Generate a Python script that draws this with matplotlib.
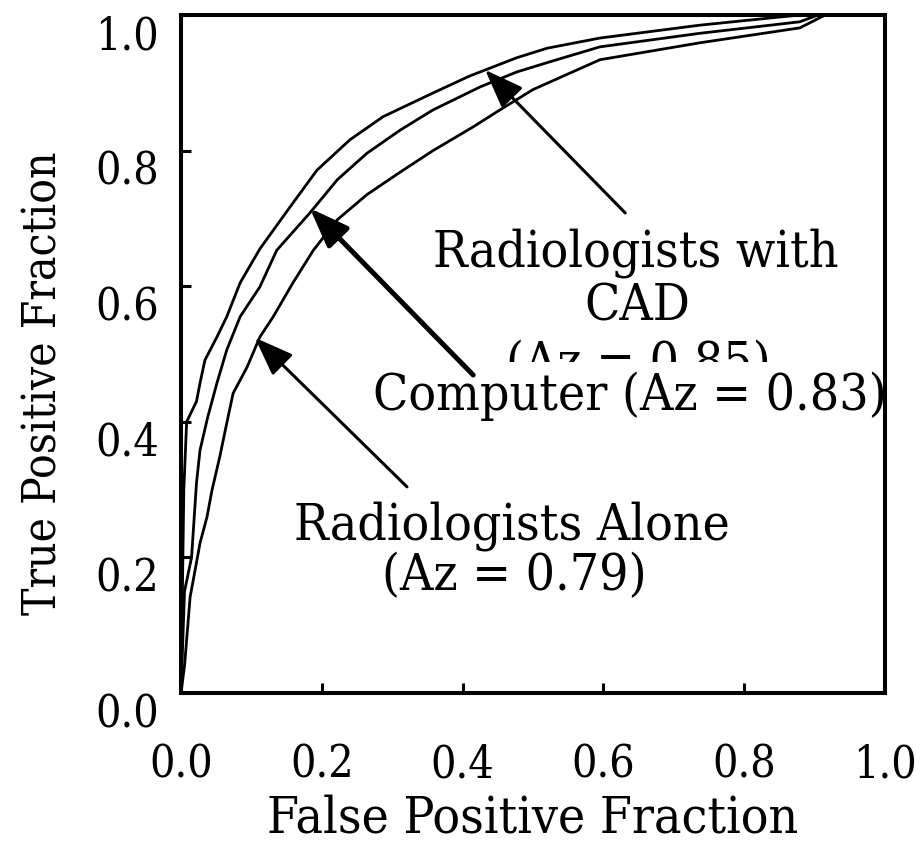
import os
import matplotlib
matplotlib.use("Agg")
import matplotlib.pyplot as plt
from matplotlib import font_manager as fm

# ROC curves (FPF, TPF)
cad_fpf = [0.0, 0.004, 0.008, 0.022, 0.027, 0.034, 0.051, 0.065, 0.084, 0.112, 0.155,
           0.193, 0.240, 0.287, 0.358, 0.410, 0.477, 0.520, 0.595, 0.737, 0.850, 0.880, 1.0]
cad_tpf = [0.0, 0.300, 0.400, 0.430, 0.457, 0.491, 0.525, 0.555, 0.605, 0.655, 0.717,
           0.771, 0.816, 0.850, 0.885, 0.910, 0.937, 0.951, 0.966, 0.985, 0.997, 1.0, 1.0]

comp_fpf = [0.0, 0.005, 0.015, 0.022, 0.027, 0.038, 0.051, 0.065, 0.084, 0.112, 0.136,
            0.183, 0.222, 0.264, 0.311, 0.358, 0.425, 0.477, 0.524, 0.595, 0.737, 0.879, 0.905, 1.0]
comp_tpf = [0.0, 0.150, 0.200, 0.310, 0.358, 0.407, 0.457, 0.506, 0.555, 0.599, 0.653,
            0.708, 0.757, 0.796, 0.830, 0.860, 0.894, 0.916, 0.931, 0.953, 0.973, 0.990, 1.0, 1.0]

alone_fpf = [0.0, 0.005, 0.013, 0.020, 0.027, 0.037, 0.044, 0.055, 0.065, 0.074, 0.094,
             0.112, 0.131, 0.159, 0.188, 0.222, 0.264, 0.311, 0.358, 0.415, 0.453, 0.500,
             0.595, 0.737, 0.879, 0.915, 1.0]
alone_tpf = [0.0, 0.040, 0.142, 0.181, 0.221, 0.260, 0.299, 0.348, 0.398, 0.442, 0.481,
             0.525, 0.555, 0.605, 0.653, 0.698, 0.735, 0.768, 0.800, 0.835, 0.860, 0.890,
             0.934, 0.959, 0.981, 1.0, 1.0]

ticks = [0.0, 0.2, 0.4, 0.6, 0.8, 1.0]
tick_labels = ["0.0", "0.2", "0.4", "0.6", "0.8", "1.0"]


def pick_font_file():
    """ Prefer a condensed serif, the picture uses a tall narrow bitmap font """
    entries = fm.fontManager.ttflist
    for f in entries:
        if os.path.basename(f.fname) == "DejaVuSerifCondensed.ttf":
            return f.fname
    for f in entries:
        if f.name == "Liberation Sans Narrow" and f.weight in (400, "normal") and f.style == "normal":
            return f.fname
    return fm.findfont(fm.FontProperties(family="Liberation Serif"))


font_file = pick_font_file()


def font(size):
    return fm.FontProperties(fname=font_file, size=size)


fig = plt.figure(figsize=(9.16, 8.57), dpi=100)
ax = fig.add_axes([0.1976, 0.1914, 0.7686, 0.7911])

for fpf, tpf in [(cad_fpf, cad_tpf), (comp_fpf, comp_tpf), (alone_fpf, alone_tpf)]:
    ax.plot(fpf, tpf, color="black", lw=2.0, solid_joinstyle="miter")

ax.set_xlim(0, 1)
ax.set_ylim(0, 1)

for s in ax.spines.values():
    s.set_linewidth(2.9)
    s.set_zorder(7)

ax.set_xticks(ticks, tick_labels)
ax.set_yticks(ticks, tick_labels)
ax.tick_params(direction="in", length=7, width=2.2)
ax.tick_params(axis="x", pad=36)
ax.tick_params(axis="y", pad=16)
for lab in ax.get_xticklabels() + ax.get_yticklabels():
    lab.set_fontproperties(font(32))
for t in ax.yaxis.get_major_ticks():
    t.label1.set_va("top")

ax.set_xlabel("False Positive Fraction", fontproperties=font(37), labelpad=6)
ax.set_ylabel("True Positive Fraction", fontproperties=font(33))
ax.yaxis.set_label_coords(-0.163, 0.457)

# arrows, drawn over the white box of the "Computer" label
arrow_kw = dict(arrowstyle="-|>,head_length=1.2,head_width=0.45", mutation_scale=20,
                color="black", shrinkA=0, shrinkB=0)
ax.annotate("", xy=(0.432, 0.919), xytext=(0.631, 0.708), zorder=6,
            arrowprops=dict(lw=2.2, **arrow_kw))
ax.annotate("", xy=(0.183, 0.715), xytext=(0.415, 0.469), zorder=6,
            arrowprops=dict(lw=3.6, **arrow_kw))
ax.annotate("", xy=(0.105, 0.524), xytext=(0.321, 0.304), zorder=6,
            arrowprops=dict(lw=2.2, **arrow_kw))

# labels
ax.text(0.646, 0.649, "Radiologists with", fontproperties=font(37), ha="center", va="center")
ax.text(0.648, 0.569, "CAD", fontproperties=font(37), ha="center", va="center")
ax.text(0.649, 0.484, "(Az = 0.85)", fontproperties=font(37), ha="center", va="center")
ax.text(0.638, 0.438, "Computer (Az = 0.83)", fontproperties=font(37), ha="center",
        va="center", zorder=4,
        bbox=dict(boxstyle="square,pad=0.18", fc="white", ec="none"))
ax.text(0.470, 0.246, "Radiologists Alone", fontproperties=font(37), ha="center", va="center")
ax.text(0.473, 0.172, "(Az = 0.79)", fontproperties=font(37), ha="center", va="center")

fig.savefig("out.png", dpi=100)
